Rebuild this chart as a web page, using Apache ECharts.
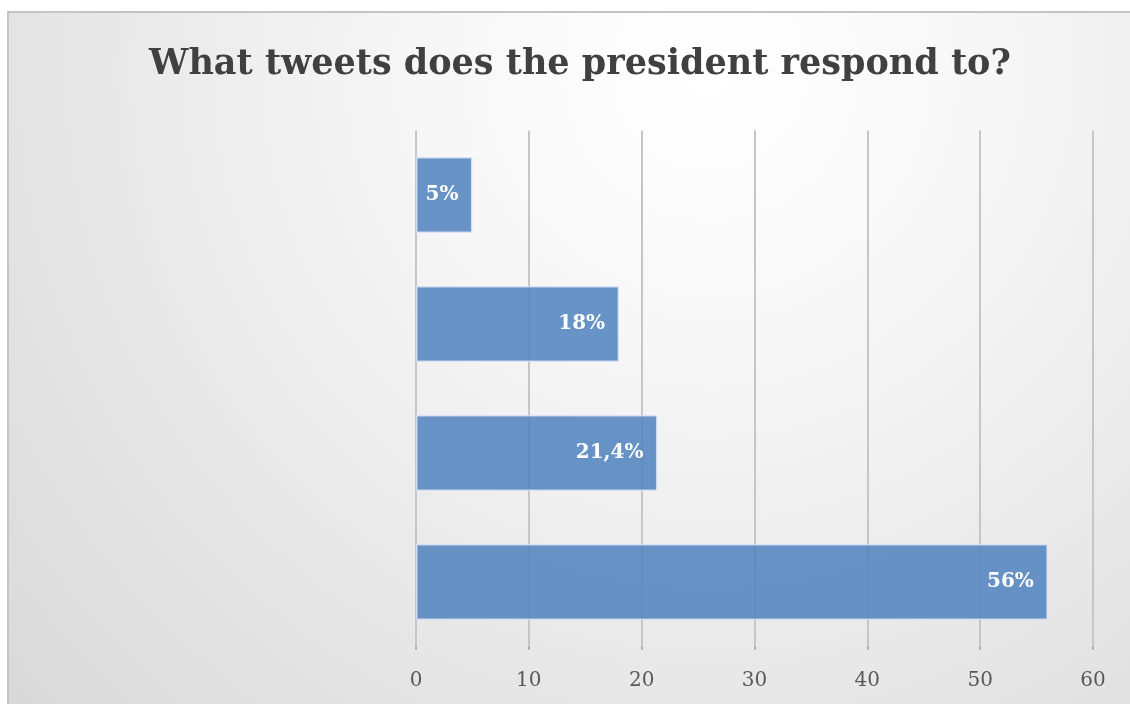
<!DOCTYPE html>
<html>
<head>
<meta charset="utf-8">
<script src="https://cdn.jsdelivr.net/npm/echarts@6/dist/echarts.min.js"></script>
<style>
    html, body { margin: 0; padding: 0; background: #fff; overflow: hidden; width: 1130px; height: 704px; }
    #main {
        position: absolute;
        left: 7px;
        top: 11px;
        width: 1130px;
        height: 700px;
        border-top: 2px solid #c4c4c4;
        border-left: 2px solid #c4c4c4;
    }
</style>
</head>
<body>
<div id="main"></div>
<script>
// data, top to bottom as drawn
var categories = ['Category 1', 'Category 2', 'Category 3', 'Category 4'];
var values = [5, 18, 21.4, 56];
var valueLabels = ['5%', '18%', '21,4%', '56%'];
var axisTicks = [0, 10, 20, 30, 40, 50, 60];

var chart = echarts.init(document.getElementById('main'));

var gridColor = '#c6c6c6';

var option = {
    backgroundColor: {
        type: 'radial',
        x: 700, y: 60, r: 1000,
        global: true,
        colorStops: [
            { offset: 0, color: '#ffffff' },
            { offset: 0.3, color: '#f6f6f6' },
            { offset: 1, color: '#d6d6d6' }
        ]
    },
    title: {
        text: 'What tweets does the president respond to?',
        left: 566,
        top: 29,
        textAlign: 'center',
        textStyle: {
            fontFamily: 'DejaVu Serif',
            fontWeight: 'bold',
            fontSize: 35,
            color: '#404040'
        }
    },
    grid: {
        left: 407,
        right: 46,
        top: 117.5,
        bottom: 66.5
    },
    xAxis: {
        type: 'value',
        min: axisTicks[0],
        max: axisTicks[axisTicks.length - 1],
        interval: 10,
        axisLine: { show: false },
        axisTick: {
            show: true,
            length: 3,
            lineStyle: { color: '#a8a8a8', width: 2 }
        },
        axisLabel: {
            margin: 24,
            fontFamily: 'DejaVu Serif',
            fontSize: 20,
            color: '#595959'
        },
        splitLine: {
            lineStyle: { color: gridColor, width: 2 }
        }
    },
    yAxis: {
        type: 'category',
        inverse: true,
        data: categories,
        axisLine: { show: false },
        axisTick: { show: false },
        axisLabel: { show: false }
    },
    series: [{
        type: 'bar',
        data: values,
        barCategoryGap: '41%',
        itemStyle: {
            color: 'rgba(79,129,189,0.85)',
            borderColor: 'rgba(220,230,245,0.8)',
            borderWidth: 1.5
        },
        label: {
            show: true,
            position: 'insideRight',
            distance: 14,
            formatter: function(p) {
                return valueLabels[p.dataIndex];
            },
            fontFamily: 'DejaVu Serif',
            fontWeight: 'bold',
            fontSize: 20,
            color: '#ffffff'
        }
    }]
};

chart.setOption(option);
</script>
</body>
</html>
